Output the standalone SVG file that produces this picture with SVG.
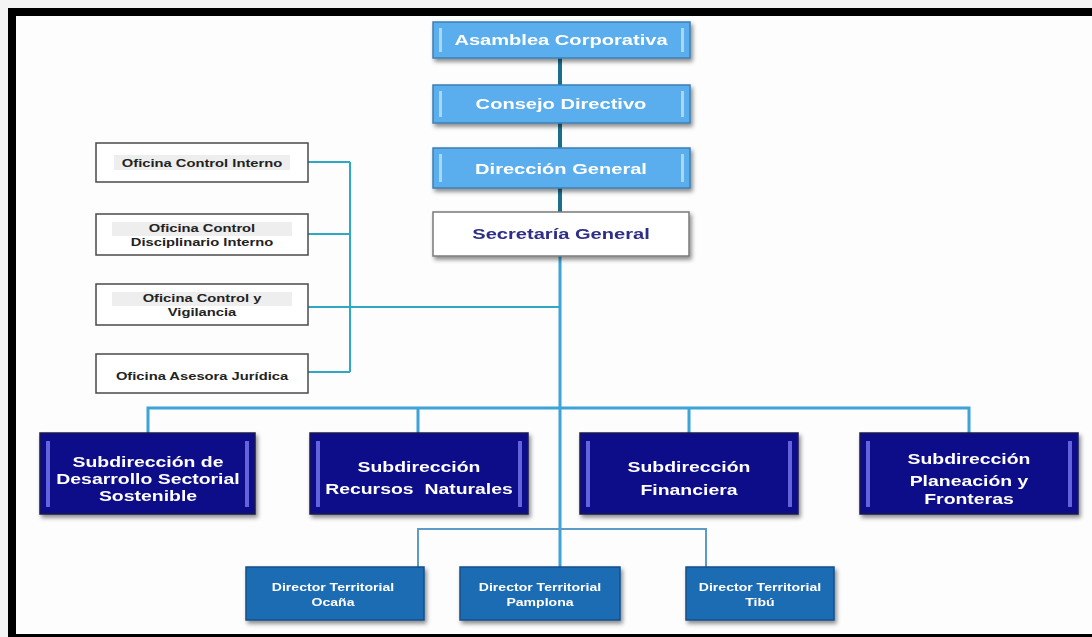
<svg xmlns="http://www.w3.org/2000/svg" width="1092" height="637" viewBox="0 0 1092 637">
<defs>
<style>
text{font-family:"Liberation Sans",Arial,sans-serif;font-weight:bold;text-anchor:middle}
.t1{font-size:15px;fill:#ffffff}
.t2{font-size:15px;fill:#2d2d86}
.to{font-size:11px;fill:#222222}
.ts{font-size:14.5px;fill:#ffffff}
.td{font-size:10.5px;fill:#ffffff}
.top{fill:#5aaeee;stroke:#3c7fb4;stroke-width:1.5}
.topbar{fill:#a9d7f7}
.sec{fill:#ffffff;stroke:#7a7a7a;stroke-width:1.5}
.off{fill:#ffffff;stroke:#4a4a4a;stroke-width:1.5}
.band{fill:#eeeeee}
.sub{fill:#0a0a8a;stroke:#1a1a50;stroke-width:1.5}
.subbar{fill:#6464dc}
.dir{fill:#1f6cb4;stroke:#14508a;stroke-width:1.5}
.c1{stroke:#1b6f8c;stroke-width:4;fill:none}
.c2{stroke:#3da4d8;stroke-width:3;fill:none}
.c3{stroke:#2fa8c4;stroke-width:2;fill:none}
.c4{stroke:#5d9cc6;stroke-width:2;fill:none}
</style>
<filter id="sh" x="-10%" y="-20%" width="125%" height="150%">
<feDropShadow dx="2" dy="3" stdDeviation="2" flood-color="#000" flood-opacity="0.45"/>
</filter>
</defs>
<rect x="0" y="0" width="1092" height="637" fill="#f4f4f4"/>
<rect x="16" y="16" width="1076" height="618" fill="#fdfdfd"/>
<rect x="8" y="8" width="1084" height="8" fill="#000"/>
<rect x="8" y="8" width="8" height="629" fill="#000"/>
<rect x="8" y="634" width="1084" height="3" fill="#000"/>

<g id="connectors">
<path class="c1" d="M560 58V85M560 123V148M560 188V212"/>
<path class="c2" d="M560 256V567"/>
<path class="c2" d="M148 433V408H969V433M418 408V433M689 408V433"/>
<path class="c3" d="M308 162H350M308 234H350M308 307H560M308 372H350M350 162V372"/>
<path class="c4" d="M418 567V529H706V567"/>
</g>

<g id="asamblea" filter="url(#sh)">
<rect class="top" x="433" y="22" width="257" height="36"/>
<rect class="topbar" x="439" y="28" width="3" height="24"/><rect class="topbar" x="681" y="28" width="3" height="24"/>
<text class="t1" transform="translate(561 45) scale(1.34 1)">Asamblea Corporativa</text>
</g>
<g id="consejo" filter="url(#sh)">
<rect class="top" x="433" y="85" width="257" height="38"/>
<rect class="topbar" x="439" y="91" width="3" height="26"/><rect class="topbar" x="681" y="91" width="3" height="26"/>
<text class="t1" transform="translate(561 109) scale(1.34 1)">Consejo Directivo</text>
</g>
<g id="direccion" filter="url(#sh)">
<rect class="top" x="433" y="148" width="257" height="40"/>
<rect class="topbar" x="439" y="154" width="3" height="28"/><rect class="topbar" x="681" y="154" width="3" height="28"/>
<text class="t1" transform="translate(561 174) scale(1.34 1)">Dirección General</text>
</g>
<g id="secretaria" filter="url(#sh)">
<rect class="sec" x="433" y="212" width="256" height="44"/>
<text class="t2" transform="translate(561 239) scale(1.34 1)">Secretaría General</text>
</g>

<g id="of1">
<rect class="off" x="96" y="143" width="212" height="39"/>
<rect class="band" x="114" y="155" width="176" height="15"/>
<text class="to" transform="translate(202 167) scale(1.34 1)">Oficina Control Interno</text>
</g>
<g id="of2">
<rect class="off" x="96" y="214" width="212" height="41"/>
<rect class="band" x="112" y="222" width="180" height="14"/>
<text class="to" transform="translate(202 232) scale(1.34 1)">Oficina Control</text>
<text class="to" transform="translate(202 246) scale(1.34 1)">Disciplinario Interno</text>
</g>
<g id="of3">
<rect class="off" x="96" y="284" width="212" height="41"/>
<rect class="band" x="112" y="292" width="180" height="14"/>
<text class="to" transform="translate(202 302) scale(1.34 1)">Oficina Control y</text>
<text class="to" transform="translate(202 316) scale(1.34 1)">Vigilancia</text>
</g>
<g id="of4">
<rect class="off" x="96" y="354" width="212" height="39"/>
<text class="to" transform="translate(202 380) scale(1.34 1)">Oficina Asesora Jurídica</text>
</g>

<g id="sub1" filter="url(#sh)">
<rect class="sub" x="40" y="433" width="215" height="81"/>
<rect class="subbar" x="46" y="441" width="4" height="66"/><rect class="subbar" x="245" y="441" width="4" height="66"/>
<text class="ts" transform="translate(148 467) scale(1.34 1)">Subdirección de</text>
<text class="ts" transform="translate(148 484) scale(1.34 1)">Desarrollo Sectorial</text>
<text class="ts" transform="translate(148 501) scale(1.34 1)">Sostenible</text>
</g>
<g id="sub2" filter="url(#sh)">
<rect class="sub" x="310" y="433" width="218" height="81"/>
<rect class="subbar" x="316" y="441" width="4" height="66"/><rect class="subbar" x="518" y="441" width="4" height="66"/>
<text class="ts" transform="translate(419 472) scale(1.34 1)">Subdirección</text>
<text class="ts" transform="translate(419 494) scale(1.34 1)" xml:space="preserve">Recursos  Naturales</text>
</g>
<g id="sub3" filter="url(#sh)">
<rect class="sub" x="580" y="433" width="218" height="81"/>
<rect class="subbar" x="586" y="441" width="4" height="66"/><rect class="subbar" x="788" y="441" width="4" height="66"/>
<text class="ts" transform="translate(689 472) scale(1.34 1)">Subdirección</text>
<text class="ts" transform="translate(689 495) scale(1.34 1)">Financiera</text>
</g>
<g id="sub4" filter="url(#sh)">
<rect class="sub" x="860" y="433" width="218" height="81"/>
<rect class="subbar" x="866" y="441" width="4" height="66"/><rect class="subbar" x="1068" y="441" width="4" height="66"/>
<text class="ts" transform="translate(969 464) scale(1.34 1)">Subdirección</text>
<text class="ts" transform="translate(969 486) scale(1.34 1)">Planeación y</text>
<text class="ts" transform="translate(969 504) scale(1.34 1)">Fronteras</text>
</g>

<g id="dir1" filter="url(#sh)">
<rect class="dir" x="246" y="567" width="178" height="53"/>
<text class="td" transform="translate(333 591) scale(1.34 1)">Director Territorial</text>
<text class="td" transform="translate(333 606) scale(1.34 1)">Ocaña</text>
</g>
<g id="dir2" filter="url(#sh)">
<rect class="dir" x="460" y="567" width="160" height="53"/>
<text class="td" transform="translate(540 591) scale(1.34 1)">Director Territorial</text>
<text class="td" transform="translate(540 606) scale(1.34 1)">Pamplona</text>
</g>
<g id="dir3" filter="url(#sh)">
<rect class="dir" x="686" y="567" width="148" height="53"/>
<text class="td" transform="translate(760 591) scale(1.34 1)">Director Territorial</text>
<text class="td" transform="translate(760 606) scale(1.34 1)">Tibú</text>
</g>
</svg>
